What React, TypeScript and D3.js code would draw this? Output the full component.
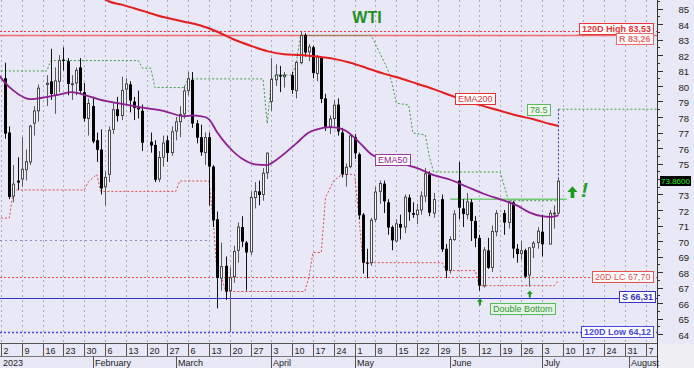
import React from "react";
import * as d3 from "d3";

const FONT = "'Liberation Sans', Arial, Helvetica, sans-serif";

// daily WTI candles
const days = [
  "2023-01-03","2023-01-04","2023-01-05","2023-01-06","2023-01-09","2023-01-10","2023-01-11","2023-01-12","2023-01-13",
  "2023-01-17","2023-01-18","2023-01-19","2023-01-20","2023-01-23","2023-01-24","2023-01-25","2023-01-26","2023-01-27",
  "2023-01-30","2023-01-31","2023-02-01","2023-02-02","2023-02-03","2023-02-06","2023-02-07","2023-02-08","2023-02-09",
  "2023-02-10","2023-02-13","2023-02-14","2023-02-15","2023-02-16","2023-02-17","2023-02-21","2023-02-22","2023-02-23",
  "2023-02-24","2023-02-27","2023-02-28","2023-03-01","2023-03-02","2023-03-03","2023-03-06","2023-03-07","2023-03-08",
  "2023-03-09","2023-03-10","2023-03-13","2023-03-14","2023-03-15","2023-03-16","2023-03-17","2023-03-20","2023-03-21",
  "2023-03-22","2023-03-23","2023-03-24","2023-03-27","2023-03-28","2023-03-29","2023-03-30","2023-03-31","2023-04-03",
  "2023-04-04","2023-04-05","2023-04-06","2023-04-10","2023-04-11","2023-04-12","2023-04-13","2023-04-14","2023-04-17",
  "2023-04-18","2023-04-19","2023-04-20","2023-04-21","2023-04-24","2023-04-25","2023-04-26","2023-04-27","2023-04-28",
  "2023-05-01","2023-05-02","2023-05-03","2023-05-04","2023-05-05","2023-05-08","2023-05-09","2023-05-10","2023-05-11",
  "2023-05-12","2023-05-15","2023-05-16","2023-05-17","2023-05-18","2023-05-19","2023-05-22","2023-05-23","2023-05-24",
  "2023-05-25","2023-05-26","2023-05-30","2023-05-31","2023-06-01","2023-06-02","2023-06-05","2023-06-06","2023-06-07",
  "2023-06-08","2023-06-09","2023-06-12","2023-06-13","2023-06-14","2023-06-15","2023-06-16","2023-06-20","2023-06-21",
  "2023-06-22","2023-06-23","2023-06-26","2023-06-27","2023-06-28","2023-06-29","2023-06-30","2023-07-03","2023-07-05",
  "2023-07-06","2023-07-07",
];
const opens = [
  80.5,77.0,72.9,73.9,74.0,74.6,75.1,77.6,78.4, 80.1,80.3,79.4,80.3,81.7,81.6,80.1,80.2,81.2,
  79.6,77.9,78.7,76.5,75.9,73.5,74.3,77.2,78.5, 78.1,79.8,80.1,79.0,78.6,78.4,76.4,76.2,74.0,
  75.4,76.5,75.7,77.1,77.7,78.2,79.7,80.4,77.6, 76.7,75.7,76.7,74.8,71.4,67.6,68.4,66.8,67.7,
  69.4,70.9,69.9,69.3,72.8,73.2,73.0,74.4,79.0, 80.4,80.7,80.6,80.7,79.7,81.5,83.3,82.2,82.5,
  80.8,81.8,79.2,77.4,77.9,78.8,77.0,74.3,74.8, 76.7,75.6,71.7,68.6,68.6,71.4,73.2,73.7,72.5,
  70.9,70.0,71.1,70.9,72.8,71.8,71.7,72.0,72.9, 74.3,71.8,72.7,69.5,68.1,70.1,73.9,72.1,71.7,
  72.5,71.3,70.2,67.1,69.4,68.3,70.6,71.8,71.2, 72.5,69.5,69.2,69.4,67.8,69.6,69.9,70.6,69.8,
  71.8,71.8,
];
const highs = [
  81.5,77.4,74.9,75.4,76.7,75.9,77.5,78.7,80.1, 80.7,82.4,81.2,82.0,82.5,81.8,80.7,81.2,81.8,
  80.2,79.2,79.3,77.0,77.2,74.5,77.4,78.9,79.3, 80.6,80.5,80.3,79.3,79.7,78.8,77.0,76.5,75.8,
  76.8,76.8,77.4,78.0,78.7,80.0,80.9,80.9,77.8, 77.5,77.0,77.0,74.9,71.9,69.9,69.0,68.3,69.7,
  71.2,71.6,70.0,73.2,73.8,73.9,74.7,75.7,81.8, 81.4,81.3,80.9,80.9,81.6,83.53,83.4,82.7,82.6,
  82.0,81.9,79.5,78.1,79.1,79.2,77.3,75.0,76.9, 76.9,75.7,71.8,69.5,71.5,73.5,73.9,73.9,72.7,
  71.0,71.4,71.7,73.0,73.0,72.5,72.4,73.2,74.7, 74.5,73.1,73.0,69.8,70.3,72.0,75.1,72.7,73.1,
  72.7,71.6,70.4,69.6,70.2,71.0,72.0,72.0,72.6, 72.6,69.8,70.0,69.5,69.6,70.0,70.9,71.7,72.0,
  72.3,74.0,
];
const lows = [
  76.6,72.7,72.5,73.3,73.5,73.9,74.9,76.8,77.7, 78.7,79.1,78.2,79.6,81.0,79.4,79.1,79.4,79.5,
  77.7,76.8,76.3,75.1,73.0,72.3,73.8,76.9,77.7, 77.8,78.8,78.3,77.8,77.9,75.8,75.7,73.8,73.8,
  74.8,75.1,75.5,76.5,76.7,77.9,79.4,77.3,76.3, 75.5,74.9,72.3,70.9,65.65,66.8,66.2,64.12,67.3,
  68.6,69.6,66.8,69.1,72.1,72.3,72.6,74.0,78.4, 80.0,79.6,79.9,79.5,79.2,81.4,81.9,81.6,80.5,
  80.3,78.9,77.1,76.9,77.4,76.8,74.1,73.5,74.7, 75.3,71.4,67.9,67.6,68.4,71.2,72.4,71.8,70.4,
  69.4,69.9,70.1,70.5,71.3,71.5,71.1,71.7,72.5, 71.6,71.5,69.3,67.6,67.9,70.0,71.4,70.9,71.4,
  70.0,69.6,66.8,67.0,68.2,68.0,70.3,70.4,70.8, 68.9,68.6,68.8,67.6,67.05,68.9,69.5,69.0,69.8,
  70.8,71.7,
];
const closes = [
  76.93,72.84,73.67,73.77,74.63,75.12,77.41,78.39,79.86, 80.18,79.48,80.33,81.64,81.62,80.13,80.15,81.01,79.68,
  77.90,78.87,76.41,75.88,73.39,74.11,77.14,78.47,78.06, 79.72,80.14,79.06,78.59,78.49,76.34,76.16,73.95,75.39,
  76.32,75.68,77.05,77.69,78.16,79.68,80.46,77.58,76.66, 75.72,76.68,74.80,71.33,67.61,68.35,66.74,67.64,69.33,
  70.90,69.96,69.26,72.81,73.20,72.97,74.37,75.67,80.42, 80.71,80.61,80.70,79.74,81.53,83.26,82.16,82.52,80.83,
  81.86,79.16,77.37,77.87,78.76,77.07,74.30,74.76,76.78, 75.66,71.66,68.60,68.56,71.34,73.16,73.71,72.56,70.87,
  70.04,71.11,70.86,72.83,71.86,71.69,71.99,72.91,74.34, 71.83,72.67,69.46,68.09,70.10,71.74,72.15,71.74,72.53,
  71.29,70.17,67.12,69.42,68.27,70.62,71.78,71.19,72.53, 69.51,69.16,69.37,67.70,69.56,69.86,70.64,69.79,71.79,
  71.80,73.86,
];

// moving averages
const ema50Days = [
  "2022-12-30","2023-01-03","2023-01-05","2023-01-11","2023-01-13","2023-01-20","2023-01-25","2023-01-31","2023-02-03",
  "2023-02-10","2023-02-17","2023-02-24","2023-03-03","2023-03-07","2023-03-10","2023-03-13","2023-03-15","2023-03-17",
  "2023-03-20","2023-03-23","2023-03-28","2023-03-31","2023-04-04","2023-04-11","2023-04-14","2023-04-18","2023-04-21",
  "2023-04-25","2023-04-27","2023-05-02","2023-05-05","2023-05-10","2023-05-16","2023-05-22","2023-05-26","2023-06-01",
  "2023-06-07","2023-06-13","2023-06-20","2023-06-23","2023-06-28","2023-07-03","2023-07-05","2023-07-07",
];
const ema50Values = [
  80.9,80.2,79.7,79.15,79.2,79.45,79.6,79.35,79.1,
  78.85,78.6,78.4,78.05,78.1,78.0,77.85,77.0,76.3,
  76.0,75.3,74.95,74.9,75.2,76.3,77.0,77.2,77.35,
  77.3,77.1,76.4,75.6,75.25,75.0,74.7,74.25,73.95,
  73.5,73.05,72.6,72.3,71.85,71.6,71.55,71.65,
];
const ema200Days = [
  "2023-02-01","2023-02-03","2023-02-07","2023-02-10","2023-02-17","2023-02-24","2023-03-03","2023-03-09","2023-03-15",
  "2023-03-21","2023-03-27","2023-03-31","2023-04-06","2023-04-12","2023-04-18","2023-04-24","2023-04-28","2023-05-04",
  "2023-05-10","2023-05-16","2023-05-22","2023-05-26","2023-06-01","2023-06-07","2023-06-13","2023-06-19","2023-06-23",
  "2023-06-29","2023-07-05","2023-07-07",
];
const ema200Values = [
  86.0,85.75,85.45,85.25,84.85,84.45,84.15,83.9,83.5,
  83.0,82.6,82.25,82.05,82.0,81.9,81.75,81.5,81.15,
  80.8,80.5,80.15,79.8,79.4,79.0,78.7,78.4,78.1,
  77.85,77.55,77.42,
];

// 20-day highest / lowest close channels
const hcDays = [
  "2022-12-30","2023-01-17","2023-01-18","2023-02-16","2023-02-17","2023-02-21","2023-02-22","2023-03-03","2023-03-06",
  "2023-03-30","2023-03-31","2023-04-03","2023-04-04","2023-04-10","2023-04-11","2023-04-12","2023-05-05","2023-05-09",
  "2023-05-11","2023-05-12","2023-05-15","2023-05-18","2023-05-19","2023-05-24","2023-05-25","2023-05-26","2023-06-19",
  "2023-06-21","2023-07-07",
];
const hcValues = [
  80.97,80.97,81.64,81.64,81.15,81.15,79.9,79.9,80.46,
  80.46,77.58,80.42,80.71,80.71,81.53,83.26,83.26,82.16,
  81.03,80.2,78.9,78.77,76.97,76.84,75.4,74.45,74.45,
  72.6,72.6,
];
const lcDays = [
  "2022-12-30","2023-01-04","2023-01-05","2023-01-30","2023-01-31","2023-02-02","2023-02-03","2023-03-01","2023-03-02",
  "2023-03-13","2023-03-14","2023-03-15","2023-03-16","2023-03-17","2023-04-13","2023-04-14","2023-04-17","2023-04-19",
  "2023-04-20","2023-04-24","2023-04-26","2023-05-01","2023-05-02","2023-05-03","2023-05-30","2023-05-31","2023-06-09",
  "2023-06-12","2023-07-06","2023-07-07",
];
const lcValues = [
  71.48,71.48,73.29,73.29,73.81,74.3,73.2,73.2,73.87,
  73.87,71.33,67.68,67.68,66.74,66.74,67.64,69.26,69.26,
  72.81,73.9,74.3,74.3,71.66,68.6,68.6,68.09,68.09,
  67.12,67.12,67.45,
];

// horizontal levels
const levelNames = ["120D High", "R", "20D LC", "S", "120D Low"];
const levelValues = [83.53, 83.26, 67.7, 66.31, 64.12];
const oldLevel = 70.06;
const oldLevelEnd = "2023-03-13";
const neckline = 72.7;
const necklineDays = ["2023-06-01", "2023-07-11"];
const target = 78.5;
const lastPrice = 73.86;
const bottomDays = ["2023-06-12", "2023-06-28"];
const bottomValues = [66.3, 66.8];

const yTicks = d3.range(64, 86);
const monthDays = ["2023-01-02","2023-02-01","2023-03-01","2023-04-03","2023-05-01","2023-06-01","2023-07-03","2023-08-01"];
const monthLabels = ["2023","February","March","April","May","June","July","August"];

const W = 694;
const H = 368;
const PR = 657;
const PB = 343;

const T0 = Date.UTC(2023, 0, 2);
function bday(s: string) {
  const [Y, M, D] = s.split("-").map(Number);
  const n = Math.round((Date.UTC(Y, M - 1, D) - T0) / 864e5);
  const w = Math.floor(n / 7);
  return w * 5 + Math.min(n - w * 7, 4);
}

const x = d3.scaleLinear().domain([0, 155]).range([1, 645.8]);
const y = d3.scaleLinear().domain([64, 85]).range([334, 8.5]);

let ctx: CanvasRenderingContext2D | null = null;
function textWidth(t: string, size: number, bold: boolean) {
  if (!ctx) ctx = document.createElement("canvas").getContext("2d");
  if (!ctx) return t.length * size * 0.55;
  ctx.font = `${bold ? "bold " : ""}${size}px "Liberation Sans"`;
  return ctx.measureText(t).width;
}

function Tag({ right, left, yc, text, color, fill = "#fff", textColor, bold = false, size = 9 }: any) {
  const w = Math.round(textWidth(text, size, bold) + 5);
  const x0 = left != null ? Math.round(left) : Math.round(right) - w;
  const h = size + 2;
  const y0 = Math.round(yc - h / 2);
  return (
    <g>
      <rect x={x0 + 0.5} y={y0 + 0.5} width={w} height={h} fill={fill} stroke={color} strokeWidth={1} />
      <text x={x0 + 3} y={y0 + h / 2 + size * 0.36} fontSize={size} fontWeight={bold ? "bold" : "normal"}
        fill={textColor || color} fontFamily={FONT}>{text}</text>
    </g>
  );
}

const pairs = (ds: string[], vs: number[]) => ds.map((s, i) => [bday(s), vs[i]] as [number, number]);

export default function App() {
  const candles = days.map((s, i) => ({ d: bday(s), o: opens[i], h: highs[i], l: lows[i], c: closes[i] }));
  const straight = d3.line<[number, number]>().x((p) => x(p[0])).y((p) => y(p[1]));
  const smooth = d3.line<[number, number]>().x((p) => x(p[0])).y((p) => y(p[1])).curve(d3.curveMonotoneX);

  const mondays = d3.range(0, 32).map((w) => ({ d: w * 5, label: new Date(T0 + w * 7 * 864e5).getUTCDate() }));
  const lastX = x(bday(days[days.length - 1]));
  const lastY = Math.round(y(lastPrice));

  const levelStyle = [
    { color: "#e8343a", dash: "2,2", width: 1, tagDy: -2.3, right: 653, bold: true },
    { color: "#f06c6c", dash: null, width: 1.4, tagDy: 3.2, right: 653, bold: true },
    { color: "#e85050", dash: "2,2", width: 1, tagDy: 0.3, right: 653, bold: false },
    { color: "#3434cc", dash: null, width: 1.2, tagDy: -1.2, right: 655, bold: true },
    { color: "#4848e0", dash: "2,2", width: 1.5, tagDy: -0.5, right: 653, bold: true },
  ];

  const arrow = (cx: number, ty: number, s: number) =>
    `M${cx},${ty} L${cx + 3 * s},${ty + 3.5 * s} L${cx + 1.1 * s},${ty + 3.5 * s} L${cx + 1.1 * s},${ty + 7 * s} ` +
    `L${cx - 1.1 * s},${ty + 7 * s} L${cx - 1.1 * s},${ty + 3.5 * s} L${cx - 3 * s},${ty + 3.5 * s} Z`;

  return (
    <div style={{ position: "absolute", left: 0, top: 0 }}>
      <svg width={W} height={H} style={{ display: "block", fontFamily: FONT }}>
        <defs>
          <clipPath id="plot"><rect x={0} y={0} width={PR} height={PB} /></clipPath>
        </defs>
        <rect x={0} y={0} width={W} height={H} fill="#e8e8f7" />

        <g clipPath="url(#plot)">
          {/* weekly grid */}
          {mondays.map((m) => (
            <line key={m.d} x1={Math.round(x(m.d)) + 0.5} x2={Math.round(x(m.d)) + 0.5} y1={0} y2={PB}
              stroke="#a9a9c2" strokeDasharray="2,3" strokeWidth={1} />
          ))}

          {/* levels */}
          <line x1={0} x2={x(bday(oldLevelEnd))} y1={Math.round(y(oldLevel)) + 0.5} y2={Math.round(y(oldLevel)) + 0.5}
            stroke="#8a8ac0" strokeDasharray="2,3" />
          {levelValues.map((v, i) => (
            <line key={i} x1={0} x2={PR} y1={Math.round(y(v)) + 0.5} y2={Math.round(y(v)) + 0.5}
              stroke={levelStyle[i].color} strokeWidth={levelStyle[i].width}
              strokeDasharray={levelStyle[i].dash || undefined} />
          ))}

          {/* channels */}
          <path d={straight(pairs(hcDays, hcValues)) || ""} fill="none" stroke="#3f9f3f" strokeDasharray="2,2" />
          <path d={straight(pairs(lcDays, lcValues)) || ""} fill="none" stroke="#e24848" strokeDasharray="2,2" />

          {/* neckline */}
          <line x1={x(bday(necklineDays[0]))} x2={x(bday(necklineDays[1]))} y1={y(neckline)} y2={y(neckline)}
            stroke="#70cc70" strokeWidth={1.5} />

          {/* target */}
          <line x1={lastX} x2={PR} y1={y(target)} y2={y(target)} stroke="#3f9f3f" strokeDasharray="2,2" />
          <line x1={lastX} x2={lastX} y1={y(target)} y2={y(lastPrice)} stroke="#3030c0" strokeDasharray="2,2" />

          {/* candles */}
          {candles.map((k, i) => {
            const cx = Math.round(x(k.d));
            const up = k.c >= k.o;
            const top = y(Math.max(k.o, k.c));
            const bh = Math.max(1, Math.abs(y(k.o) - y(k.c)));
            return (
              <g key={i}>
                <line x1={cx + 0.5} x2={cx + 0.5} y1={y(k.h)} y2={y(k.l)} stroke={up ? "#5a5a5a" : "#111"} />
                {up ? (
                  <rect x={cx - 0.5} y={top} width={2} height={bh} fill="#fbfbfb" stroke="#3a3a3a" strokeWidth={0.9} />
                ) : (
                  <rect x={cx - 1} y={top} width={3} height={bh} fill="#000" />
                )}
              </g>
            );
          })}

          {/* averages */}
          <path d={smooth(pairs(ema200Days, ema200Values)) || ""} fill="none" stroke="#e41e1e" strokeWidth={2} />
          <path d={smooth(pairs(ema50Days, ema50Values)) || ""} fill="none" stroke="#8e1c92" strokeWidth={1.8} />
        </g>

        {/* annotations */}
        <text x={367} y={23} textAnchor="middle" fontSize={16} fontWeight="bold" fill="#1f8f1f">WTI</text>
        <Tag left={455} yc={98} text="EMA200" color="#e03030" />
        <Tag left={375} yc={159.5} text="EMA50" color="#9a3a9e" textColor="#8e1c92" />
        <Tag right={lastX - 8} yc={y(target)} text={String(target)} color="#5cb85c" fill="#eef8ee" textColor="#3a9a3a" />
        {levelValues.map((v, i) => (
          <Tag key={i} right={levelStyle[i].right} yc={y(v) + levelStyle[i].tagDy}
            text={`${levelNames[i]} ${v.toFixed(2).replace(".", ",")}`} color={levelStyle[i].color}
            bold={levelStyle[i].bold} />
        ))}
        <Tag left={490} yc={308} text="Double Bottom" color="#5cb85c" fill="#e6f4e8" textColor="#2f9a2f" />
        {bottomDays.map((s, i) => (
          <path key={s} d={arrow(x(bday(s)) + 0.5, y(bottomValues[i]), 1)} fill="#1f9a1f" />
        ))}
        <path d={arrow(lastX + 14, y(lastPrice) + 5, 1.7)} fill="#1f9a1f" />
        <text x={581} y={197} fontSize={21} fontWeight="bold" fontStyle="italic" fill="#22a022">!</text>

        {/* right axis */}
        <line x1={PR + 0.5} x2={PR + 0.5} y1={0} y2={H} stroke="#333" />
        {yTicks.map((v) => (
          <g key={v}>
            <line x1={PR} x2={PR + 6} y1={Math.round(y(v)) + 0.5} y2={Math.round(y(v)) + 0.5} stroke="#333" />
            <line x1={PR} x2={PR + 3} y1={Math.round(y(v + 0.5)) + 0.5} y2={Math.round(y(v + 0.5)) + 0.5} stroke="#333" />
            {Math.abs(y(v) + 1.5 - lastY) > 8 && (
              <text x={689} y={y(v) + 4.8} textAnchor="end" fontSize={9.5} fill="#222">{v}</text>
            )}
          </g>
        ))}
        <rect x={660} y={lastY - 5} width={31} height={10} fill="#000" />
        <text x={675.5} y={lastY + 3} textAnchor="middle" fontSize={8} fill="#22ee22">
          {lastPrice.toFixed(4)}
        </text>

        {/* date axis */}
        <rect x={PR + 1} y={PB + 1} width={W - PR - 1} height={H - PB - 1} fill="#efeff3" />
        <line x1={0} x2={PR} y1={PB + 0.5} y2={PB + 0.5} stroke="#555" />
        <line x1={0} x2={PR} y1={356.5} y2={356.5} stroke="#777" />
        {mondays.map((m) => (
          <g key={m.d}>
            <line x1={Math.round(x(m.d)) + 0.5} x2={Math.round(x(m.d)) + 0.5} y1={PB} y2={356} stroke="#555" />
            <text x={Math.round(x(m.d)) + 2.5} y={353.5} fontSize={9} fill="#222">{m.label}</text>
          </g>
        ))}
        {monthDays.map((s, i) => {
          const mx = Math.round(x(bday(s)));
          return (
            <g key={s}>
              {i > 0 && <line x1={mx + 0.5} x2={mx + 0.5} y1={356} y2={H} stroke="#555" />}
              <text x={mx + 2} y={365.5} fontSize={9} fill="#222">{monthLabels[i]}</text>
            </g>
          );
        })}
      </svg>
    </div>
  );
}
